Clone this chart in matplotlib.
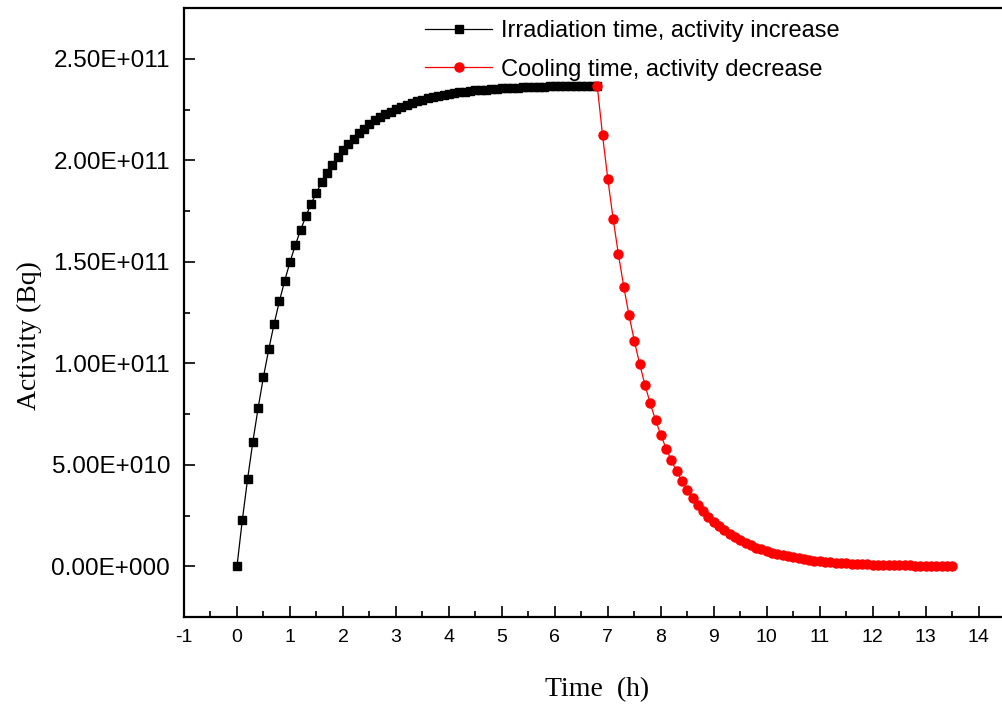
import matplotlib
matplotlib.use("Agg")
import matplotlib.pyplot as plt
from matplotlib.ticker import MultipleLocator, FuncFormatter
import math

plt.rcParams["axes.unicode_minus"] = False

# Irradiation phase (h, Bq/1e11)
irr_time = [0.0, 0.1, 0.2, 0.3, 0.4, 0.5, 0.6, 0.7, 0.8, 0.9,
            1.0, 1.1, 1.2, 1.3, 1.4, 1.5, 1.6, 1.7, 1.8, 1.9,
            2.0, 2.1, 2.2, 2.3, 2.4, 2.5, 2.6, 2.7, 2.8, 2.9,
            3.0, 3.1, 3.2, 3.3, 3.4, 3.5, 3.6, 3.7, 3.8, 3.9,
            4.0, 4.1, 4.2, 4.3, 4.4, 4.5, 4.6, 4.7, 4.8, 4.9,
            5.0, 5.1, 5.2, 5.3, 5.4, 5.5, 5.6, 5.7, 5.8, 5.9,
            6.0, 6.1, 6.2, 6.3, 6.4, 6.5, 6.6, 6.7, 6.8]
irr_activity = [0.000, 0.226, 0.429, 0.614, 0.781, 0.933, 1.069, 1.193, 1.305, 1.406,
                1.498, 1.581, 1.656, 1.724, 1.786, 1.841, 1.892, 1.937, 1.978, 2.015,
                2.049, 2.080, 2.107, 2.132, 2.155, 2.177, 2.196, 2.212, 2.227, 2.240,
                2.252, 2.263, 2.273, 2.283, 2.291, 2.298, 2.305, 2.311, 2.317, 2.322,
                2.327, 2.331, 2.334, 2.338, 2.341, 2.344, 2.346, 2.348, 2.351, 2.352,
                2.354, 2.356, 2.357, 2.358, 2.359, 2.360, 2.361, 2.362, 2.363, 2.364,
                2.364, 2.365, 2.365, 2.366, 2.366, 2.366, 2.367, 2.367, 2.367]

# Cooling phase (h, Bq/1e11)
cool_time = [6.8, 6.9, 7.0, 7.1, 7.2, 7.3, 7.4, 7.5, 7.6, 7.7,
             7.8, 7.9, 8.0, 8.1, 8.2, 8.3, 8.4, 8.5, 8.6, 8.7,
             8.8, 8.9, 9.0, 9.1, 9.2, 9.3, 9.4, 9.5, 9.6, 9.7,
             9.8, 9.9, 10.0, 10.1, 10.2, 10.3, 10.4, 10.5, 10.6, 10.7,
             10.8, 10.9, 11.0, 11.1, 11.2, 11.3, 11.4, 11.5, 11.6, 11.7,
             11.8, 11.9, 12.0, 12.1, 12.2, 12.3, 12.4, 12.5, 12.6, 12.7,
             12.8, 12.9, 13.0, 13.1, 13.2, 13.3, 13.4, 13.5]
cool_activity = [2.367, 2.124, 1.907, 1.711, 1.536, 1.378, 1.237, 1.110, 0.997, 0.894,
                 0.803, 0.720, 0.647, 0.580, 0.521, 0.467, 0.419, 0.376, 0.338, 0.303,
                 0.272, 0.244, 0.219, 0.197, 0.177, 0.158, 0.142, 0.128, 0.115, 0.103,
                 0.0922, 0.0828, 0.0743, 0.0667, 0.0598, 0.0537, 0.0482, 0.0433, 0.0388, 0.0348,
                 0.0313, 0.0281, 0.0252, 0.0226, 0.0203, 0.0182, 0.0163, 0.0147, 0.0132, 0.0118,
                 0.0106, 0.0095, 0.0085, 0.0077, 0.0069, 0.0062, 0.0055, 0.0050, 0.0045, 0.0040,
                 0.0036, 0.0032, 0.0029, 0.0026, 0.0023, 0.0021, 0.0019, 0.0017]

SCALE = 1e11
labels = ["Irradiation time, activity increase", "Cooling time, activity decrease"]

fig = plt.figure(figsize=(10.02, 7.07), dpi=100)
ax = fig.add_axes([184/1002, 1 - 617/707, 1 - 184/1002, (617 - 8)/707])

ax.plot(irr_time, [v * SCALE for v in irr_activity], color="black", lw=0.9,
        marker="s", markersize=6.2, label=labels[0], zorder=3)
ax.plot(cool_time, [v * SCALE for v in cool_activity], color="red", lw=0.9,
        marker="o", markersize=6.5, label=labels[1], zorder=4)

ax.set_xlim(-1, 14.44)
ax.set_ylim(-2.5e10, 2.75e11)

ax.xaxis.set_major_locator(MultipleLocator(1))
ax.xaxis.set_minor_locator(MultipleLocator(0.5))
ax.yaxis.set_major_locator(MultipleLocator(5e10))
ax.yaxis.set_minor_locator(MultipleLocator(2.5e10))


def sci_fmt(v, pos):
    if v == 0:
        return "0.00E+000"
    e = int(math.floor(math.log10(abs(v))))
    m = v / 10 ** e
    sign = "+" if e >= 0 else "-"
    return f"{m:.2f}E{sign}{abs(e):03d}"


ax.yaxis.set_major_formatter(FuncFormatter(sci_fmt))

for s in ["left", "bottom", "top"]:
    ax.spines[s].set_linewidth(1.6)
ax.spines["right"].set_visible(False)

ax.tick_params(axis="both", which="both", direction="in", top=False, right=False, width=1.2)
ax.tick_params(axis="both", which="major", length=8)
ax.tick_params(axis="both", which="minor", length=4)
ax.tick_params(axis="y", which="major", labelsize=17.5, pad=10)
ax.tick_params(axis="x", which="major", labelsize=14, pad=9)
for lbl in ax.get_xticklabels() + ax.get_yticklabels():
    lbl.set_fontfamily("Liberation Sans")

ax.set_xlabel("Time  (h)", fontsize=20, fontfamily="Liberation Serif")
ax.set_ylabel("Activity (Bq)", fontsize=20, fontfamily="Liberation Serif")
ax.xaxis.set_label_coords(0.505, -(677 - 617) / 609)
ax.yaxis.set_label_coords(-(184 - 42) / 818, (617 - 336) / 609)

leg = ax.legend(loc="upper left", bbox_to_anchor=(425/1002, 1 - 20/707),
                bbox_transform=fig.transFigure, frameon=False,
                prop={"family": "Liberation Sans", "size": 17},
                handlelength=2.85, handletextpad=0.38, labelspacing=0.7,
                borderpad=0, borderaxespad=0)

fig.savefig("out.png", dpi=100)
